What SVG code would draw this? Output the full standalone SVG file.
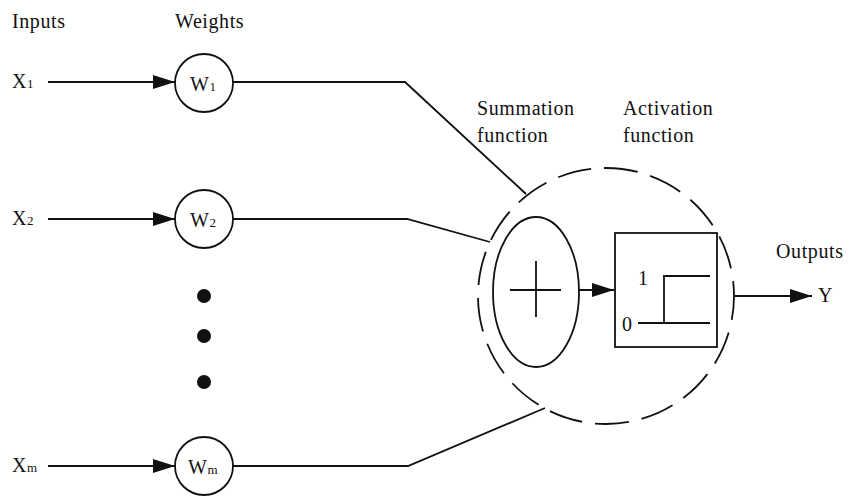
<svg xmlns="http://www.w3.org/2000/svg" width="850" height="499" viewBox="0 0 850 499">
<style>
.t{font-family:"Liberation Serif","Times New Roman",serif;font-size:20px;letter-spacing:0.6px;fill:#111}
.s{font-size:13px;letter-spacing:0}
.ln{fill:none;stroke:#111;stroke-width:1.8}
.nd{fill:#fff;stroke:#111;stroke-width:1.8}
</style>
<defs>
<marker id="ahb" viewBox="0 0 10 10" refX="10" refY="5" markerWidth="22" markerHeight="14" markerUnits="userSpaceOnUse" orient="auto" preserveAspectRatio="none"><path d="M0,0 L10,5 L0,10 z" fill="#111"/></marker>
</defs>
<rect width="850" height="499" fill="#fff"/>
<text class="t" x="12" y="28">Inputs</text>
<text class="t" x="175" y="28">Weights</text>
<g id="connectors">
<line class="ln" x1="48" y1="82" x2="175" y2="82" marker-end="url(#ahb)"/>
<line class="ln" x1="48" y1="219" x2="175" y2="219" marker-end="url(#ahb)"/>
<line class="ln" x1="48" y1="466" x2="175" y2="466" marker-end="url(#ahb)"/>
<polyline class="ln" points="233,82 405,82 526,194"/>
<polyline class="ln" points="233,219 407,219 490,242"/>
<polyline class="ln" points="233,466 408,466 545,408"/>
<line class="ln" x1="579" y1="290" x2="614" y2="290" marker-end="url(#ahb)"/>
<line class="ln" x1="735" y1="296" x2="812" y2="296" marker-end="url(#ahb)"/>
</g>
<g id="x1"><text class="t" x="12" y="88">X<tspan class="s">1</tspan></text></g>
<g id="x2"><text class="t" x="12" y="225">X<tspan class="s">2</tspan></text></g>
<g id="xm"><text class="t" x="12" y="472">X<tspan class="s">m</tspan></text></g>
<g id="w1"><circle class="nd" cx="204" cy="83" r="29"/><text class="t" x="190" y="91">W<tspan class="s">1</tspan></text></g>
<g id="w2"><circle class="nd" cx="204" cy="219" r="29"/><text class="t" x="190" y="227">W<tspan class="s">2</tspan></text></g>
<g id="wm"><circle class="nd" cx="204" cy="466" r="29"/><text class="t" x="188" y="474">W<tspan class="s">m</tspan></text></g>
<g id="dots" fill="#111">
<circle cx="204" cy="296" r="7"/>
<circle cx="204" cy="336" r="7"/>
<circle cx="204" cy="382" r="7"/>
</g>
<g id="neuron">
<circle cx="606" cy="296" r="128" fill="none" stroke="#111" stroke-width="1.8" stroke-dasharray="34 13" stroke-dashoffset="10"/>
</g>
<g id="summation">
<ellipse class="nd" cx="536" cy="292" rx="43" ry="75"/>
<line class="ln" x1="510" y1="290" x2="561" y2="290" stroke-width="2.4"/>
<line class="ln" x1="536" y1="261" x2="536" y2="317" stroke-width="2.4"/>
<text class="t" x="477" y="115">Summation</text>
<text class="t" x="477" y="142">function</text>
</g>
<g id="activation">
<rect class="nd" x="615" y="233" width="102" height="114"/>
<polyline class="ln" points="710,276 664,276 664,323"/>
<line class="ln" x1="638" y1="323" x2="710" y2="323"/>
<text class="t" x="638" y="285" font-size="18">1</text>
<text class="t" x="622" y="331" font-size="18">0</text>
<text class="t" x="623" y="115">Activation</text>
<text class="t" x="623" y="142">function</text>
</g>
<g id="output">
<text class="t" x="776" y="258">Outputs</text>
<text class="t" x="818" y="302">Y</text>
</g>
</svg>
